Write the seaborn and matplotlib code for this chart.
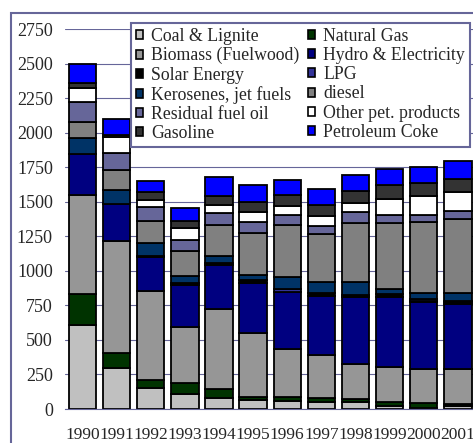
import numpy as np
import matplotlib
matplotlib.use("Agg")
import matplotlib.pyplot as plt
import seaborn as sns
from matplotlib.patches import Patch, Rectangle

# Data
years = ["1990", "1991", "1992", "1993", "1994", "1995",
         "1996", "1997", "1998", "1999", "2000", "2001"]

coal = [610, 295, 149, 105, 76, 65, 58, 51, 51, 25, 5, 22]
natural_gas = [222, 113, 58, 83, 69, 25, 31, 27, 22, 29, 38, 15]
biomass = [720, 810, 649, 404, 580, 460, 347, 315, 254, 250, 250, 254]
hydro = [290, 268, 246, 305, 315, 360, 408, 428, 482, 507, 481, 470]
solar = [0, 0, 8, 15, 15, 20, 5, 20, 18, 20, 8, 10]
lpg = [0, 0, 0, 0, 0, 0, 18, 0, 0, 0, 17, 14]
kerosene = [121, 96, 91, 50, 54, 42, 87, 80, 91, 36, 43, 54]
diesel = [113, 146, 158, 178, 221, 301, 381, 348, 428, 482, 511, 536]
residual = [148, 127, 104, 83, 87, 80, 72, 58, 80, 54, 54, 58]
other_pet = [101, 116, 48, 87, 58, 72, 62, 69, 64, 116, 133, 138]
gasoline = [31, 10, 56, 50, 69, 76, 80, 78, 85, 101, 97, 96]
pet_coke = [138, 118, 85, 94, 136, 117, 107, 115, 117, 116, 116, 129]

# stacking order, bottom to top
series = [
    ("Coal & Lignite", "#C0C0C0", coal),
    ("Natural Gas", "#003300", natural_gas),
    ("Biomass (Fuelwood)", "#969696", biomass),
    ("Hydro & Electricity", "#000080", hydro),
    ("Solar Energy", "#000000", solar),
    ("LPG", "#333399", lpg),
    ("Kerosenes, jet fuels", "#003366", kerosene),
    ("diesel", "#808080", diesel),
    ("Residual fuel oil", "#666699", residual),
    ("Other pet. products", "#FFFFFF", other_pet),
    ("Gasoline", "#333333", gasoline),
    ("Petroleum Coke", "#0000FF", pet_coke),
]

sns.set_style("white")
plt.rcParams["font.family"] = ["Liberation Serif", "DejaVu Serif"]

W, H = 473, 443
fig = plt.figure(figsize=(W / 100, H / 100), dpi=100)

# plot area in pixels
left_px, cat_px, zero_px, top_px = 65.4, 34.13, 409, 29
ax = fig.add_axes([left_px / W, (H - zero_px) / H,
                   len(years) * cat_px / W, (zero_px - top_px) / H])

bottom = np.zeros(len(years))
for name, col, vals in series:
    sns.barplot(x=years, y=vals, bottom=bottom, color=col, saturation=1,
                width=0.8, edgecolor="black", linewidth=1.3,
                errorbar=None, ax=ax)
    bottom += np.array(vals)

ax.set_xlim(-0.5, len(years) - 0.5)
ax.set_ylim(0, 2750)
ax.set_yticks(np.arange(0, 2751, 250))
ax.set_xlabel("")
ax.set_ylabel("")
ax.yaxis.grid(True, color="#666699", linewidth=0.8)
ax.set_axisbelow(True)
for s in ["top", "right", "left"]:
    ax.spines[s].set_visible(False)
ax.spines["bottom"].set_color("#666699")
ax.tick_params(axis="y", length=0, pad=9, labelsize=13)
ax.tick_params(axis="x", length=0, pad=13, labelsize=12.5)

# legend (row-wise order as in the original)
leg_order = [0, 2, 4, 6, 8, 10, 1, 3, 5, 7, 9, 11]
handles = [Patch(facecolor=series[i][1], edgecolor="black", linewidth=1.2,
                 label=series[i][0]) for i in leg_order]
leg = fig.legend(handles=handles, ncol=2, loc="upper left",
                 bbox_to_anchor=(130.7 / W, 1 - 22.7 / H),
                 frameon=True, fancybox=False, edgecolor="#666699",
                 framealpha=1, fontsize=12.8, handlelength=0.4,
                 handleheight=0.4, handletextpad=0.45, columnspacing=0.5,
                 labelspacing=0.12, borderpad=0.3, borderaxespad=0)
leg.get_frame().set_linewidth(1.5)

# outer chart border
fig.patches.append(Rectangle((10.7 / W, -0.1), 1.2, 1 - 12.7 / H + 0.1,
                             transform=fig.transFigure, fill=False,
                             edgecolor="#666699", linewidth=1.5))

fig.savefig("out.png", dpi=100)
